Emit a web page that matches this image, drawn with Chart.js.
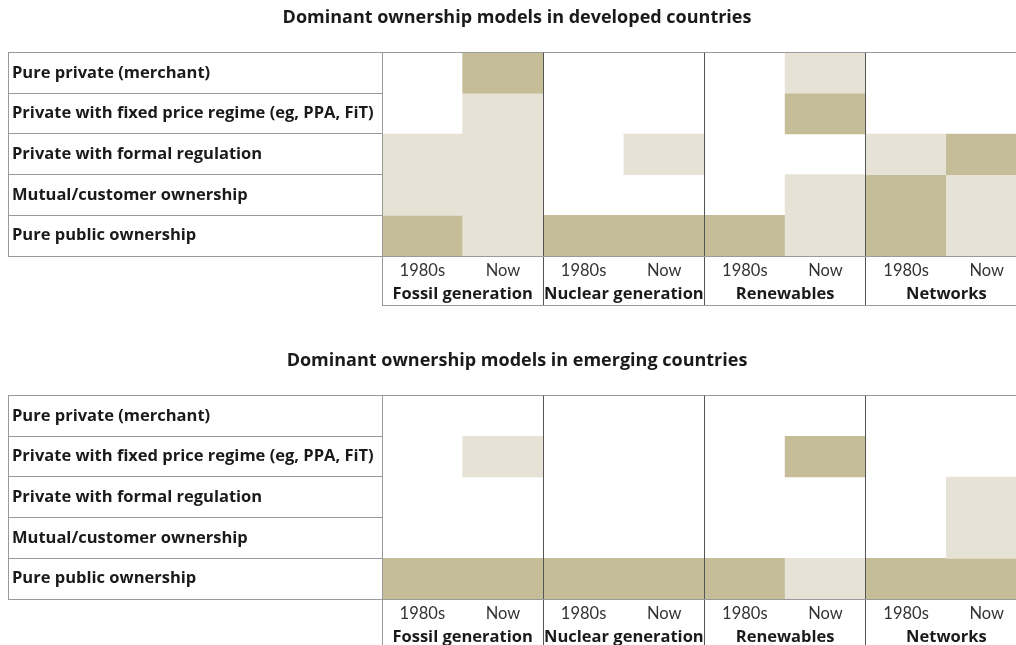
<!DOCTYPE html>
<html>
<head>
<meta charset="utf-8">
<script src="https://cdn.jsdelivr.net/npm/chart.js@4.4.0/dist/chart.umd.min.js"></script>
<style>
  html, body { margin: 0; padding: 0; background: #fff; overflow: hidden; width: 1016px; height: 645px; }
  canvas { position: absolute; left: 0; }
  #devChart { top: 0; }
  #emgChart { top: 343px; }
</style>
</head>
<body>
<canvas id="devChart" width="1040" height="320"></canvas>
<canvas id="emgChart" width="1040" height="320"></canvas>
<script>
const models = [
  "Pure private (merchant)",
  "Private with fixed price regime (eg, PPA, FiT)",
  "Private with formal regulation",
  "Mutual/customer ownership",
  "Pure public ownership"
];
const periods = ["1980s", "Now", "1980s", "Now", "1980s", "Now", "1980s", "Now"];
const sectors = ["Fossil generation", "Nuclear generation", "Renewables", "Networks"];

// 0 = not used, 1 = present, 2 = dominant
const developed = [
  [0, 2, 0, 0, 0, 1, 0, 0],
  [0, 1, 0, 0, 0, 2, 0, 0],
  [1, 1, 0, 1, 0, 0, 1, 2],
  [1, 1, 0, 0, 0, 1, 2, 1],
  [2, 1, 2, 2, 2, 1, 2, 1]
];
const emerging = [
  [0, 0, 0, 0, 0, 0, 0, 0],
  [0, 1, 0, 0, 0, 2, 0, 0],
  [0, 0, 0, 0, 0, 0, 0, 1],
  [0, 0, 0, 0, 0, 0, 0, 1],
  [2, 2, 2, 2, 2, 1, 2, 2]
];

const shade = ["rgba(0,0,0,0)", "#e6e3d6", "#c4bd98"];
const lineGrey = "#9a9a9a";
const lineDark = "#555555";
const boldFont = "'Open Sans', sans-serif";

Chart.defaults.font.family = "Lato, 'Open Sans', sans-serif";
Chart.defaults.color = "#222";

function makeChart(id, title, matrix) {
  const datasets = models.map((m, r) => ({
    label: m,
    data: matrix[r].map(v => (v ? [r, r + 1] : null)),
    backgroundColor: matrix[r].map(v => shade[v]),
    borderWidth: 0,
    xAxisID: "x",
    yAxisID: "v",
    barPercentage: 1,
    categoryPercentage: 1,
    grouped: false
  }));

  return new Chart(document.getElementById(id), {
    type: "bar",
    data: { labels: periods, datasets: datasets },
    options: {
      responsive: false,
      animation: false,
      layout: { padding: { left: 7, right: 13, top: 0, bottom: 15 } },
      plugins: {
        legend: { display: false },
        tooltip: { enabled: false },
        title: {
          display: true,
          text: title,
          color: "#1a1a1a",
          font: { family: boldFont, size: 18, weight: "bold" },
          padding: { top: 7, bottom: 24 }
        }
      },
      scales: {
        v: { type: "linear", min: 0, max: 5, reverse: true, display: false },
        y: {
          type: "category",
          labels: models,
          position: "left",
          offset: true,
          weight: 0,
          afterFit: s => { s.width = 374; },
          grid: {
            offset: true,
            z: 1,
            drawTicks: true,
            tickLength: 374,
            tickColor: lineGrey,
            color: ctx => (ctx.index === 0 ? lineGrey : "rgba(0,0,0,0)")
          },
          border: { display: true, color: lineGrey, z: 1 },
          ticks: {
            mirror: true,
            padding: -370,
            crossAlign: "near",
            color: "#1a1a1a",
            font: { family: boldFont, size: 16.5, weight: "bold" }
          }
        },
        yl: {
          type: "category",
          labels: models,
          position: "left",
          weight: 1,
          afterFit: s => { s.width = 1; },
          grid: { display: false },
          ticks: { display: false },
          border: { display: true, color: lineGrey, z: 1 }
        },
        x: {
          type: "category",
          position: "bottom",
          weight: 0,
          afterFit: s => { s.height = 24; },
          grid: {
            offset: true,
            z: 1,
            tickLength: 49,
            color: ctx => ctx.index === 0 ? lineGrey : (ctx.index % 2 === 0 ? lineDark : "rgba(0,0,0,0)")
          },
          border: { display: true, color: lineGrey, z: 1 },
          ticks: { padding: -44, color: "#333", font: { size: 16.5 }, maxRotation: 0, autoSkip: false }
        },
        g: {
          type: "category",
          labels: sectors,
          position: "bottom",
          offset: true,
          weight: 1,
          afterFit: s => { s.height = 25; },
          grid: { display: false, drawTicks: false },
          border: { display: false },
          ticks: { padding: 4, color: "#1a1a1a", font: { family: boldFont, size: 16.5, weight: "bold" }, maxRotation: 0, autoSkip: false }
        },
        xb: {
          type: "category",
          labels: [""],
          position: "bottom",
          weight: 2,
          afterFit: s => { s.height = 0; },
          grid: { display: false, drawTicks: false },
          ticks: { display: false },
          border: { display: true, color: lineGrey }
        }
      }
    }
  });
}

makeChart("devChart", "Dominant ownership models in developed countries", developed);
makeChart("emgChart", "Dominant ownership models in emerging countries", emerging);
</script>
</body>
</html>
